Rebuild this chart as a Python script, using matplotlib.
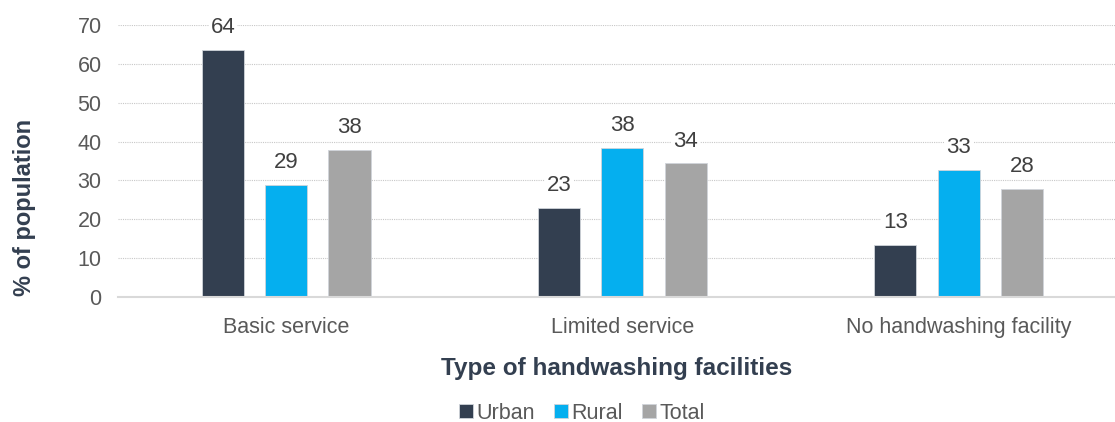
import numpy as np
import matplotlib
matplotlib.use("Agg")
import matplotlib.pyplot as plt

plt.rcParams['font.family'] = ['Liberation Sans', 'DejaVu Sans']

categories = ["Basic service", "Limited service", "No handwashing facility"]
series_names = ["Urban", "Rural", "Total"]
urban = [63.6, 22.9, 13.4]
rural = [28.9, 38.3, 32.7]
total = [37.8, 34.4, 27.8]
labels_urban = ["64", "23", "13"]
labels_rural = ["29", "38", "33"]
labels_total = ["38", "34", "28"]

colors = ["#333F50", "#05AFEF", "#A5A5A5"]
grey = "#595959"

fig = plt.figure(figsize=(11.15, 4.22), dpi=100)
ax = fig.add_axes([0.106, 0.296, 0.894, 0.645])

x = np.arange(len(categories))
w = 0.125
step = 0.188
for i, (vals, labs) in enumerate([(urban, labels_urban), (rural, labels_rural), (total, labels_total)]):
    pos = x + (i - 1) * step
    ax.bar(pos, vals, w, color=colors[i], edgecolor="#d0d4da", linewidth=0.6,
           label=series_names[i], zorder=3)
    for p, v, t in zip(pos, vals, labs):
        ax.text(p, v + 3.0, t, ha="center", va="bottom", fontsize=16, color="#404040",
                bbox=dict(facecolor="white", edgecolor="none", pad=1.5), zorder=4)

ax.set_xlim(-0.5, 2.465)
ax.set_ylim(0, 70)
ax.set_yticks(range(0, 71, 10))
ax.set_xticks(x)
ax.set_xticklabels(categories)
ax.tick_params(axis="both", length=0, labelsize=15.5, colors=grey)
ax.tick_params(axis="x", pad=14)
ax.tick_params(axis="y", pad=12)
ax.yaxis.grid(True, linestyle=(0, (1, 1)), color="#c8c8c8", linewidth=0.8, zorder=0)
for s in ["top", "right", "left"]:
    ax.spines[s].set_visible(False)
ax.spines["bottom"].set_color("#d9d9d9")
ax.spines["bottom"].set_linewidth(1.5)
ax.spines["bottom"].set_zorder(5)

ax.set_ylabel("% of population", fontsize=17, fontweight="bold", color="#333F50")
ax.set_xlabel("Type of handwashing facilities", fontsize=17.5, fontweight="bold", color="#333F50")
ax.yaxis.set_label_coords(-0.082, 0.33)
ax.xaxis.set_label_coords(0.5, -0.22)

fig.legend(loc="lower center", bbox_to_anchor=(0.522, -0.05), ncol=3, frameon=False,
           fontsize=15.5, handlelength=0.65, handleheight=0.65, handletextpad=0.15,
           columnspacing=0.9, labelcolor=grey)

fig.savefig("out.png", dpi=100)
